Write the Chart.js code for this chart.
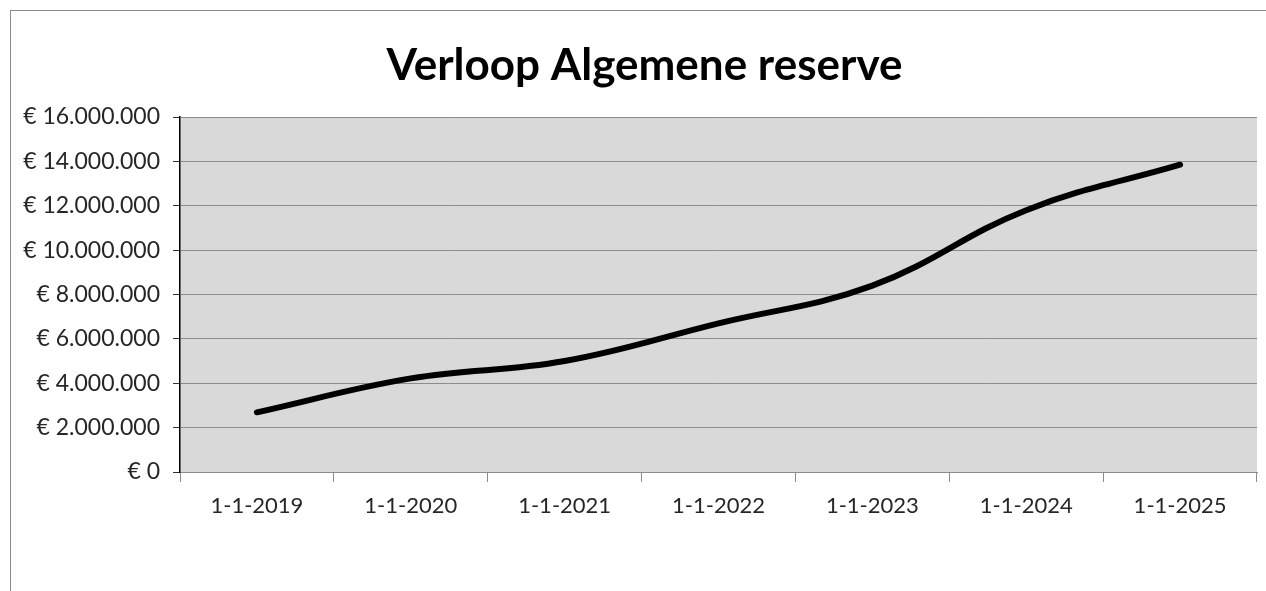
<!DOCTYPE html>
<html>
<head>
<meta charset="utf-8">
<title>Verloop Algemene reserve</title>
<script src="https://cdn.jsdelivr.net/npm/chart.js@4/dist/chart.umd.min.js"></script>
<style>
  body { margin: 0; background: #fff; }
  #wrap { position: relative; width: 1266px; height: 591px; }
  #frame {
    position: absolute; left: 10px; top: 10px; right: 0; bottom: 0;
    border-left: 1px solid #8a8a8a; border-top: 1px solid #8a8a8a;
    pointer-events: none;
  }
</style>
</head>
<body>
<div id="wrap">
  <canvas id="chart" width="1266" height="591"></canvas>
  <div id="frame"></div>
</div>
<script>
const categories = ['1-1-2019', '1-1-2020', '1-1-2021', '1-1-2022', '1-1-2023', '1-1-2024', '1-1-2025'];
const reserveValues = [2690000, 4220000, 5000000, 6700000, 8400000, 11800000, 13850000];
const yMin = 0;
const yMax = 16000000;
const yStep = 2000000;

const chartTitle = 'Verloop Algemene reserve';
const fontName = 'Lato, "Open Sans", sans-serif';

function euro(v) {
  return '€ ' + String(v).replace(/\B(?=(\d{3})+(?!\d))/g, '.');
}

// grey fill behind the plot, like the Excel plot area
const plotBg = {
  id: 'plotBg',
  beforeDraw(chart) {
    const { ctx, chartArea: a } = chart;
    ctx.save();
    ctx.fillStyle = '#d9d9d9';
    ctx.fillRect(a.left, a.top, a.right - a.left, a.bottom - a.top);
    ctx.restore();
  }
};

// title centred over the whole chart box (frame starts at x=10), not the padded area
const titleText = {
  id: 'titleText',
  afterDraw(chart) {
    const ctx = chart.ctx;
    ctx.save();
    ctx.font = 'bold 44px ' + fontName;
    ctx.fillStyle = '#000';
    ctx.textAlign = 'center';
    ctx.textBaseline = 'middle';
    ctx.fillText(chartTitle, 644.5, 66);
    ctx.restore();
  }
};

const ctx = document.getElementById('chart').getContext('2d');
new Chart(ctx, {
  type: 'line',
  data: {
    labels: categories,
    datasets: [{
      label: 'Algemene reserve',
      data: reserveValues,
      borderColor: '#000',
      borderWidth: 6,
      borderCapStyle: 'round',
      tension: 0.4,
      pointRadius: 0,
      fill: false
    }]
  },
  options: {
    responsive: false,
    animation: false,
    layout: { padding: { left: 10, right: 9, top: 117, bottom: 0 } },
    plugins: {
      legend: { display: false },
      tooltip: { enabled: false },
      title: { display: false }
    },
    scales: {
      x: {
        offset: true,
        grid: {
          offset: true,
          drawOnChartArea: false,
          drawTicks: true,
          tickLength: 10,
          color: '#8c8c8c'
        },
        border: { color: '#8c8c8c', width: 1 },
        ticks: {
          color: '#262626',
          padding: 11,
          maxRotation: 0,
          font: { family: fontName, size: 22 }
        },
        afterFit(scale) { scale.height = 119; }
      },
      y: {
        min: yMin,
        max: yMax,
        grid: {
          color: '#8c8c8c',
          tickColor: '#333',
          tickLength: 7
        },
        border: { color: '#000', width: 1.5 },
        ticks: {
          stepSize: yStep,
          color: '#262626',
          padding: 13,
          font: { family: fontName, size: 23 },
          callback: v => euro(v)
        },
        afterFit(scale) { scale.width = 170; }
      }
    }
  },
  plugins: [plotBg, titleText]
});
</script>
</body>
</html>
